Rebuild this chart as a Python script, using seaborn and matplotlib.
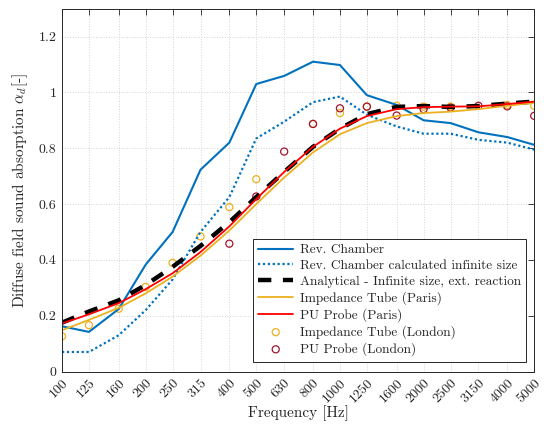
import matplotlib
matplotlib.use("Agg")
import matplotlib.pyplot as plt
import seaborn as sns
import numpy as np

# third-octave band centre frequencies
freqs = [100, 125, 160, 200, 250, 315, 400, 500, 630, 800, 1000, 1250,
         1600, 2000, 2500, 3150, 4000, 5000]
freq_labels = [str(f) for f in freqs]

rev_chamber = [0.162, 0.142, 0.224, 0.383, 0.50, 0.723, 0.82, 1.03, 1.059, 1.11,
               1.098, 0.99, 0.955, 0.90, 0.89, 0.857, 0.84, 0.812]
rev_chamber_inf = [0.07, 0.07, 0.13, 0.22, 0.33, 0.50, 0.625, 0.835, 0.895, 0.965,
                   0.985, 0.92, 0.878, 0.852, 0.852, 0.83, 0.82, 0.795]
analytical = [0.175, 0.215, 0.255, 0.31, 0.375, 0.45, 0.535, 0.625, 0.715, 0.805,
              0.87, 0.922, 0.948, 0.951, 0.948, 0.951, 0.96, 0.967]
tube_paris = [0.148, 0.185, 0.228, 0.28, 0.34, 0.415, 0.505, 0.60, 0.695, 0.785,
              0.85, 0.89, 0.915, 0.926, 0.931, 0.94, 0.952, 0.963]
pu_paris = [0.172, 0.205, 0.245, 0.295, 0.352, 0.428, 0.52, 0.618, 0.715, 0.805,
            0.87, 0.915, 0.94, 0.947, 0.949, 0.95, 0.958, 0.967]

tube_london_f = [100, 125, 160, 200, 250, 315, 400, 500, 800, 1000, 1250, 1600,
                 2000, 2500, 4000, 5000]
tube_london = [0.126, 0.166, 0.225, 0.303, 0.389, 0.484, 0.589, 0.689, 0.887, 0.926,
               0.949, 0.952, 0.949, 0.949, 0.955, 0.952]
pu_london_f = [400, 500, 630, 800, 1000, 1250, 1600, 2000, 2500, 3150, 4000, 5000]
pu_london = [0.458, 0.627, 0.788, 0.887, 0.943, 0.949, 0.917, 0.94, 0.945, 0.952,
             0.95, 0.916]

BLUE = "#0072BD"
YELLOW = "#EDB120"
RED = "#FF0000"
DARKRED = "#A2142F"
TXT = "#262626"

sns.set_style("white")
plt.rcParams["font.family"] = ["cmr10", "DejaVu Serif"]
plt.rcParams["mathtext.fontset"] = "cm"
plt.rcParams["axes.unicode_minus"] = False
plt.rcParams["axes.formatter.use_mathtext"] = True

fig, ax = plt.subplots(figsize=(5.44, 4.32), dpi=100)
fig.subplots_adjust(left=0.114, right=0.982, top=0.980, bottom=0.140)

sns.lineplot(x=freqs, y=rev_chamber, color=BLUE, linewidth=1.5, ax=ax,
             label="Rev. Chamber")
sns.lineplot(x=freqs, y=rev_chamber_inf, color=BLUE, linewidth=1.6, ax=ax,
             linestyle=(0, (1, 1.2)), label="Rev. Chamber calculated infinite size")
sns.lineplot(x=freqs, y=analytical, color="black", linewidth=3.2, ax=ax,
             linestyle=(0, (3, 2.6)), label="Analytical - Infinite size, ext. reaction")
sns.lineplot(x=freqs, y=tube_paris, color=YELLOW, linewidth=1.3, ax=ax,
             label="Impedance Tube (Paris)")
sns.lineplot(x=freqs, y=pu_paris, color=RED, linewidth=1.3, ax=ax,
             label="PU Probe (Paris)")
sns.scatterplot(x=tube_london_f, y=tube_london, marker="o", s=26, facecolors="none",
                edgecolor=YELLOW, linewidth=0.9, ax=ax, label="Impedance Tube (London)")
sns.scatterplot(x=pu_london_f, y=pu_london, marker="o", s=26, facecolors="none",
                edgecolor=DARKRED, linewidth=0.9, ax=ax, label="PU Probe (London)")

ax.set_xscale("log")
ax.set_xlim(100, 5000)
ax.set_ylim(0, 1.3)
ax.set_xticks(freqs)
ax.set_xticks([], minor=True)
ax.set_xticklabels(freq_labels, rotation=45, ha="right", rotation_mode="anchor")
ax.set_yticks([0, 0.2, 0.4, 0.6, 0.8, 1.0, 1.2])
ax.set_yticklabels(["0", "0.2", "0.4", "0.6", "0.8", "1", "1.2"])

ax.grid(True, linestyle=":", color="#d4d4d4", linewidth=0.7)
ax.tick_params(direction="in", length=4, width=0.6, top=True, right=True,
               labelsize=10, colors=TXT, pad=4)
for sp in ax.spines.values():
    sp.set_color(TXT)
    sp.set_linewidth(0.7)

ax.set_xlabel("Frequency [Hz]", fontsize=11, color=TXT, labelpad=0)
ax.set_ylabel(r"Diffuse field sound absorption $\alpha_d$[-]", fontsize=11,
              color=TXT, labelpad=6)

leg = ax.legend(loc="lower right", bbox_to_anchor=(0.983, 0.0275), borderaxespad=0,
                fontsize=9.6, frameon=True, fancybox=False, edgecolor=TXT,
                framealpha=1, labelspacing=0.25, handlelength=2.6,
                handletextpad=0.5, borderpad=0.4)
leg.get_frame().set_linewidth(0.7)
for t in leg.get_texts():
    t.set_color(TXT)

fig.savefig("out.png", dpi=100)
